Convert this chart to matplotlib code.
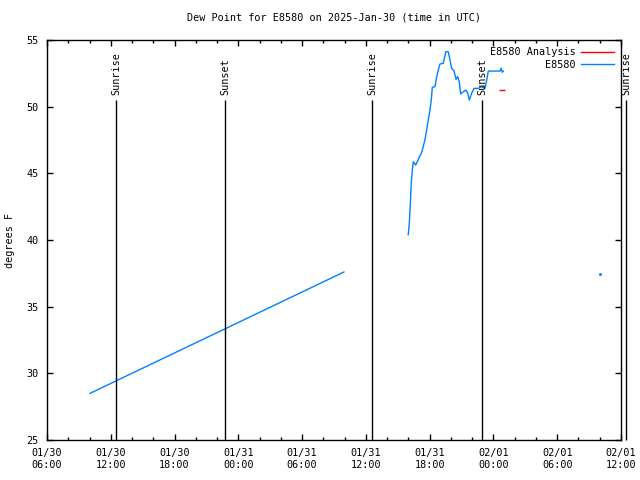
import pandas as pd
import numpy as np
import matplotlib
matplotlib.use('Agg')
from matplotlib import pyplot as plt
import matplotlib.dates as mdates

## data
# E8580 observations (one straight stretch, a gap, then the afternoon run)
obs_times = ["01-30 10:03", "01-31 09:56", None,
             "01-31 15:59", "01-31 16:05", "01-31 16:11", "01-31 16:16", "01-31 16:22",
             "01-31 16:28", "01-31 16:41", "01-31 16:50", "01-31 17:02", "01-31 17:13",
             "01-31 17:24", "01-31 17:35", "01-31 17:43", "01-31 17:52", "01-31 18:02",
             "01-31 18:09", "01-31 18:15", "01-31 18:30", "01-31 18:40", "01-31 18:49",
             "01-31 18:58", "01-31 19:17", "01-31 19:31", "01-31 19:45", "01-31 19:55",
             "01-31 20:04", "01-31 20:17", "01-31 20:29", "01-31 20:38", "01-31 20:47",
             "01-31 20:55", "01-31 21:10", "01-31 21:25", "01-31 21:35", "01-31 21:44",
             "01-31 21:57", "01-31 22:10", "01-31 22:34", "01-31 22:53", "01-31 23:12",
             "01-31 23:22", "01-31 23:31", "02-01 00:37", "02-01 00:44", "02-01 00:50",
             "02-01 00:56"]
obs_vals = [28.5, 37.6, np.nan,
            40.4, 41.25, 42.75, 44.25, 45.25,
            45.87, 45.62, 45.87, 46.25, 46.5,
            47.0, 47.63, 48.25, 49.0, 49.75,
            50.5, 51.45, 51.5, 52.25, 52.75,
            53.2, 53.25, 54.12, 54.12, 53.5,
            52.88, 52.7, 52.05, 52.25, 51.87,
            50.95, 51.12, 51.25, 51.0, 50.5,
            51.0, 51.37, 51.37, 51.5, 51.37,
            52.0, 52.67, 52.67, 52.88, 52.58,
            52.67]
# lone observation later on
lone_time = "02-01 10:00"
lone_val = 37.45
# analysis point
ana_time = "02-01 00:48"
ana_val = 51.25

sun_times = ["01-30 12:29", "01-30 22:45", "01-31 12:34", "01-31 22:55", "02-01 12:28"]
sun_labels = ["Sunrise", "Sunset", "Sunrise", "Sunset", "Sunrise"]

def to_dt(s):
    return pd.NaT if s is None else pd.to_datetime("2025-" + s)

ot = [to_dt(s) for s in obs_times]
ot[2] = ot[1] + pd.Timedelta(minutes=1)

plt.rcParams['font.family'] = ['DejaVu Sans Mono']
plt.rcParams['font.size'] = 7.3

fig = plt.figure(figsize=(6.4, 4.8), dpi=100)
ax = fig.add_axes([47/640, 40/480, 574/640, 400/480])

blue = '#0080ff'
red = '#ff0000'

ax.plot([to_dt(ana_time)], [ana_val], color=red, marker='_', markersize=4,
        linestyle='none', label='E8580 Analysis')
ax.plot(ot, obs_vals, color=blue, lw=1, label='E8580')
ax.plot([to_dt(lone_time)], [lone_val], color=blue, marker='s', markersize=1,
        linestyle='none')

for t, lab in zip(sun_times, sun_labels):
    x = to_dt(t)
    ax.vlines(x, 25, 50.5, color='black', lw=1, clip_on=False)
    ax.text(x, 50.85, lab, rotation=90, ha='center', va='bottom', clip_on=False)

ax.set_xlim(pd.Timestamp("2025-01-30 06:00"), pd.Timestamp("2025-02-01 12:00"))
ax.set_ylim(25, 55)
ax.set_yticks(np.arange(25, 56, 5))
ax.xaxis.set_major_locator(mdates.HourLocator(byhour=range(0, 24, 6)))
ax.xaxis.set_minor_locator(mdates.HourLocator(byhour=range(0, 24, 2)))
ax.xaxis.set_major_formatter(mdates.DateFormatter('%m/%d\n%H:%M'))
ax.tick_params(which='both', direction='in', top=True, right=True, width=1, pad=6)
ax.tick_params(which='major', length=4.5)
ax.tick_params(which='minor', length=2.3)
for sp in ax.spines.values():
    sp.set_linewidth(1)

ax.set_title('Dew Point for E8580 on 2025-Jan-30 (time in UTC)', fontsize=7.3, pad=14)
fig.text(10/640, 0.5, 'degrees F', rotation=90, ha='center', va='center')

leg = ax.legend(loc='upper right', frameon=False, markerfirst=False,
                handlelength=3.2, borderaxespad=0.3, labelspacing=0.25,
                handletextpad=0.6)
for h in leg.legend_handles:
    h.set_linestyle('-')
    h.set_marker('None')
    h.set_linewidth(1)

plt.savefig('out.png', dpi=100)
